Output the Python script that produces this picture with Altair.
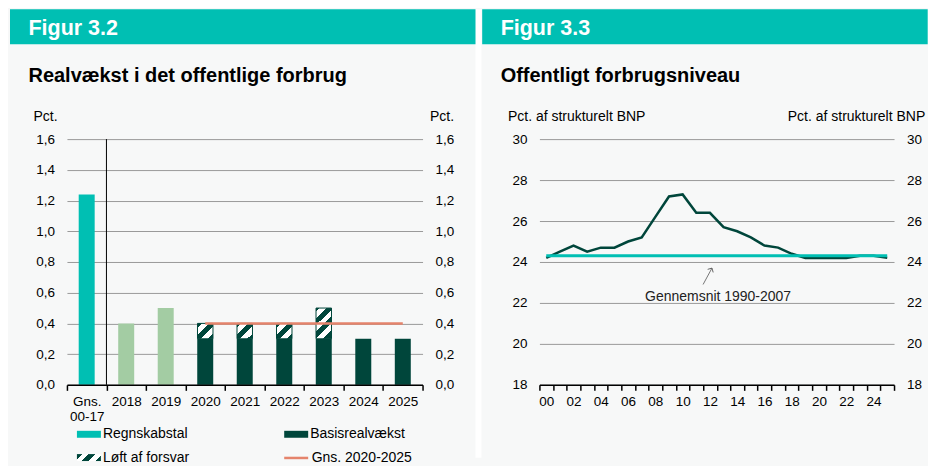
import json
import altair as alt
import pandas as pd

FONT = "Liberation Sans"
TEAL = "#00BFB3"
DARK = "#00463B"
LIGHT = "#A3CCA3"
SALMON = "#E5846C"
GRID = "#9A9A9A"
BG = "#F7F8F8"

# ---------------- Figur 3.2 data ----------------
fig_left = "Figur 3.2"
title_left = "Realvækst i det offentlige forbrug"
unit_left = "Pct."
categories = ["Gns. 00-17", "2018", "2019", "2020", "2021", "2022", "2023", "2024", "2025"]
base_growth = [1.24, 0.4, 0.5, 0.3, 0.3, 0.3, 0.3, 0.3, 0.3]
defence_boost = [0.0, 0.0, 0.0, 0.1, 0.1, 0.1, 0.2, 0.0, 0.0]
base_series = ["Regnskabstal", "Forløb", "Forløb", "Basisrealvækst", "Basisrealvækst",
               "Basisrealvækst", "Basisrealvækst", "Basisrealvækst", "Basisrealvækst"]
legend_names = ["Regnskabstal", "Basisrealvækst", "Løft af forsvar"]
avg_label = "Gns. 2020-2025"
avg_value = 0.4
avg_from, avg_to = "2020", "2025"
left_ticks = [0.0, 0.2, 0.4, 0.6, 0.8, 1.0, 1.2, 1.4, 1.6]

# ---------------- Figur 3.3 data ----------------
fig_right = "Figur 3.3"
title_right = "Offentligt forbrugsniveau"
unit_right = "Pct. af strukturelt BNP"
years = list(range(2000, 2026))
level = [24.2, 24.5, 24.8, 24.5, 24.7, 24.7, 25.0, 25.2, 26.2, 27.2, 27.3, 26.4, 26.4,
         25.7, 25.5, 25.2, 24.8, 24.7, 24.4, 24.2, 24.2, 24.2, 24.2, 24.3, 24.3, 24.2]
hist_avg = 24.3
hist_label = "Gennemsnit 1990-2007"
right_ticks = [18, 20, 22, 24, 26, 28, 30]
arrow_tail = (2011.5, 22.9)
arrow_tip = (2012.15, 23.7)
note_pos = (2012.6, 22.3)


# ---------------- helpers ----------------
def stripes(edges):
    cols = [DARK, "white"]
    stops = []
    for i in range(len(edges) - 1):
        c = cols[i % 2]
        stops.append({"offset": edges[i], "color": c})
        stops.append({"offset": edges[i + 1], "color": c})
    return stops


def js(o):
    if isinstance(o, dict):
        return "{" + ", ".join(f"{k}: {js(v)}" for k, v in o.items()) + "}"
    if isinstance(o, list):
        return "[" + ", ".join(js(v) for v in o) + "]"
    if isinstance(o, str):
        return "'" + o + "'"
    return repr(o)


hatch_small = {"gradient": "linear", "x1": 0, "y1": 0, "x2": 1, "y2": 1,
               "stops": stripes([0, 0.14, 0.37, 0.6, 0.83, 1])}
hatch_tall = {"gradient": "linear", "x1": 0, "y1": 0, "x2": 0.5, "y2": 1,
              "stops": stripes([0, 0.08, 0.26, 0.44, 0.62, 0.8, 0.98, 1])}
hatch_legend = {"gradient": "linear", "x1": 0, "y1": 0, "x2": 1, "y2": 0.29,
                "stops": stripes([0, 0.2, 0.45, 0.72, 0.97, 1])}


def band(x, x2, y, y2, color):
    return alt.Chart(pd.DataFrame({"k": [0]})).mark_rect(color=color).encode(
        x=alt.value(x), x2=alt.value(x2), y=alt.value(y), y2=alt.value(y2))


def label(text, x, y, size, color, weight):
    return alt.Chart(pd.DataFrame({"t": [text]})).mark_text(
        align="left", baseline="alphabetic", font=FONT, fontSize=size,
        fontWeight=weight, color=color).encode(text="t:N", x=alt.value(x), y=alt.value(y))


def y_axis(side, values, expr, title, tx, talign, grid):
    return alt.Axis(orient=side, values=values, labelExpr=expr, grid=grid, gridColor=GRID,
                    gridWidth=1, domain=False, ticks=False, labelPadding=12.5,
                    labelFont=FONT, labelFontSize=13.5, labelColor="black",
                    title=title, titleAngle=0, titleX=tx, titleY=-19, titleAlign=talign,
                    titleBaseline="alphabetic", titleFont=FONT, titleFontSize=14,
                    titleFontWeight="normal", titleColor="black")


def x_axis(values, expr):
    return alt.Axis(values=values, labelExpr=expr, title=None, grid=False,
                    domainColor="black", domainWidth=1.5, tickColor="black",
                    tickWidth=1.5, tickSize=5.5,
                    tickOpacity={"condition": {"test": "datum.value % 1 == 0", "value": 0}, "value": 1},
                    labelPadding=4.5, labelFont=FONT, labelFontSize=13.5, labelColor="black",
                    labelLineHeight=14.5, labelBaseline="top", labelOverlap=False,
                    labelBound=False, labelFlush=False, zindex=1)


# ---------------- left chart ----------------
n = len(categories)
idx = list(range(n))
bars_df = pd.DataFrame({"idx": idx, "category": categories, "series": base_series,
                        "low": [0.0] * n, "high": base_growth})
h_rows = [(i, base_growth[i], round(base_growth[i] + defence_boost[i], 3), defence_boost[i])
          for i in idx if defence_boost[i] > 0]
hatch_df = pd.DataFrame(h_rows, columns=["idx", "low", "high", "boost"])
sep_df = pd.DataFrame({"pos": [categories.index("2018") - 0.5], "low": [left_ticks[0]],
                       "high": [left_ticks[-1]]})
avg_df = pd.DataFrame({"start": [categories.index(avg_from)], "end": [categories.index(avg_to)],
                       "value": [avg_value], "label": [avg_label]})

xl_scale = alt.Scale(domain=[-0.5, n - 0.5], nice=False, zero=False, padding=0)
xl_vals = sorted(set([i - 0.5 for i in range(n + 1)] + idx))
xl_axis = x_axis(xl_vals, f"datum.value % 1 != 0 ? '' : split({json.dumps(categories)}[datum.value], ' ')")
yl_scale = alt.Scale(domain=[left_ticks[0], left_ticks[-1]], nice=False, zero=False)
dec = "replace(format(datum.value, '.1f'), '.', ',')"
yl_left = y_axis("left", left_ticks, dec, unit_left, -34, "left", True)
yl_right = y_axis("right", left_ticks, dec, unit_left, 7, "left", False)

fill_legend = alt.Legend(orient="none", legendX=10, legendY=283.5, columns=2, columnPadding=94.5,
                         rowPadding=4.3, direction="horizontal", title=None, values=legend_names,
                         symbolType="M-1,-0.29L1,-0.29L1,0.29L-1,0.29Z", symbolSize=576,
                         symbolStrokeWidth=0, labelFont=FONT, labelFontSize=14,
                         labelColor="black", labelOffset=2, padding=0)
stroke_legend = alt.Legend(orient="none", legendX=216, legendY=305.7, title=None,
                           symbolType="stroke", symbolSize=576, symbolStrokeWidth=2.5,
                           labelFont=FONT, labelFontSize=14, labelColor="black",
                           labelOffset=2, padding=0)

bars = alt.Chart(bars_df).mark_bar(width=16).encode(
    x=alt.X("idx:Q", scale=xl_scale, axis=xl_axis),
    y=alt.Y("low:Q", scale=yl_scale, axis=yl_left),
    y2="high:Q",
    fill=alt.Fill("series:N", scale=alt.Scale(domain=legend_names + ["Forløb"],
                                              range=[TEAL, DARK, {"expr": js(hatch_legend)}, LIGHT]),
                  legend=fill_legend),
)
hatch_s = alt.Chart(hatch_df).transform_filter("datum.boost < 0.15").mark_bar(
    width=15.5, fill=hatch_small, stroke=DARK, strokeWidth=1).encode(
    x=alt.X("idx:Q", scale=xl_scale, axis=xl_axis),
    y=alt.Y("low:Q", scale=yl_scale, axis=None), y2="high:Q")
hatch_t = alt.Chart(hatch_df).transform_filter("datum.boost >= 0.15").mark_bar(
    width=15.5, fill=hatch_tall, stroke=DARK, strokeWidth=1).encode(
    x=alt.X("idx:Q", scale=xl_scale, axis=xl_axis),
    y=alt.Y("low:Q", scale=yl_scale, axis=None), y2="high:Q")
sep = alt.Chart(sep_df).mark_rule(color="black", strokeWidth=1).encode(
    x=alt.X("pos:Q", scale=xl_scale, axis=xl_axis),
    y=alt.Y("low:Q", scale=yl_scale, axis=yl_right), y2="high:Q")
avg = alt.Chart(avg_df).mark_rule(strokeWidth=2.5).encode(
    x=alt.X("start:Q", scale=xl_scale, axis=xl_axis), x2="end:Q",
    y=alt.Y("value:Q", scale=yl_scale, axis=None),
    stroke=alt.Stroke("label:N", scale=alt.Scale(domain=[avg_label], range=[SALMON]),
                      legend=stroke_legend))

left = alt.layer(
    band(409, 415, -130, 319, "white"),
    band(-57, 409, -130, -95, TEAL),
    label(fig_left, -38.5, -104, 21.5, "white", "bold"),
    label(title_left, -38.5, -56.7, 20, "black", "bold"),
    bars, hatch_s, hatch_t, sep, avg,
).resolve_axis(y="independent").properties(width=356, height=246)

# ---------------- right chart ----------------
level_df = pd.DataFrame({"year": years, "level": level})
havg_df = pd.DataFrame({"start": [years[0]], "end": [years[-1]], "value": [hist_avg]})
arrow_df = pd.DataFrame({"x0": [arrow_tail[0]], "x1": [arrow_tip[0]],
                         "y0": [arrow_tail[1]], "y1": [arrow_tip[1]]})
note_df = pd.DataFrame({"x": [note_pos[0]], "y": [note_pos[1]], "t": [hist_label]})

xr_scale = alt.Scale(domain=[years[0] - 0.5, years[-1] + 0.5], nice=False, zero=False, padding=0)
xr_vals = [y - 0.5 for y in years] + [years[-1] + 0.5] + [y for y in years if y % 2 == 0]
xr_axis = x_axis(sorted(xr_vals),
                 "datum.value % 1 != 0 || datum.value % 2 != 0 ? '' : format(datum.value % 100, '02d')")
yr_scale = alt.Scale(domain=[right_ticks[0], right_ticks[-1]], nice=False, zero=False)
yr_left = y_axis("left", right_ticks, "format(datum.value, 'd')", unit_right, -32, "left", True)
yr_right = y_axis("right", right_ticks, "format(datum.value, 'd')", unit_right, 30.7, "right", False)

line = alt.Chart(level_df).mark_line(color=DARK, strokeWidth=2.5).encode(
    x=alt.X("year:Q", scale=xr_scale, axis=xr_axis),
    y=alt.Y("level:Q", scale=yr_scale, axis=yr_left))
havg = alt.Chart(havg_df).mark_rule(color=TEAL, strokeWidth=3).encode(
    x=alt.X("start:Q", scale=xr_scale, axis=xr_axis), x2="end:Q",
    y=alt.Y("value:Q", scale=yr_scale, axis=yr_right))
arrow = alt.Chart(arrow_df).mark_rule(color="#555555", strokeWidth=0.8).encode(
    x=alt.X("x0:Q", scale=xr_scale, axis=xr_axis), x2="x1:Q",
    y=alt.Y("y0:Q", scale=yr_scale, axis=None), y2="y1:Q")
head = alt.Chart(arrow_df).mark_point(shape="M-1,1L0,0L1,1", filled=False, size=40, angle=29,
                                      color="#555555", strokeWidth=0.8, opacity=1).encode(
    x=alt.X("x1:Q", scale=xr_scale, axis=xr_axis),
    y=alt.Y("y1:Q", scale=yr_scale, axis=None))
note = alt.Chart(note_df).mark_text(font=FONT, fontSize=14, color="#222222",
                                    align="center", baseline="middle").encode(
    x=alt.X("x:Q", scale=xr_scale, axis=xr_axis),
    y=alt.Y("y:Q", scale=yr_scale, axis=None), text="t:N")

right = alt.layer(
    band(-57.3, 388.7, -130, -95, TEAL),
    label(fig_right, -38.8, -104, 21.5, "white", "bold"),
    label(title_right, -38.8, -56.7, 20, "black", "bold"),
    line, havg, arrow, head, note,
).resolve_axis(y="independent").properties(width=355, height=246)

chart = alt.hconcat(left, right, spacing=0).properties(
    background=BG, padding={"left": 2, "top": 1, "right": 0, "bottom": 0}
).configure_view(stroke=None)

chart.save("out.html", embed_options={"renderer": "svg", "actions": False})
